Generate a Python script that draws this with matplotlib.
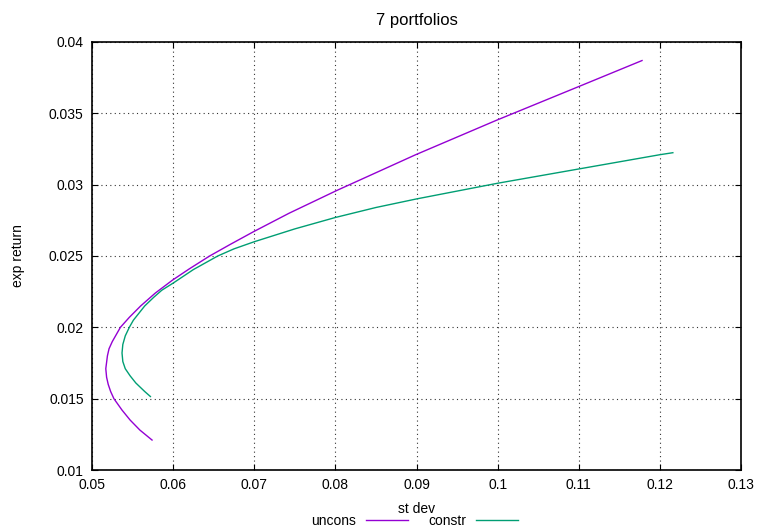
import matplotlib
matplotlib.use("Agg")
import matplotlib.pyplot as plt

plt.rcParams['font.family'] = ['Liberation Sans', 'DejaVu Sans']
plt.rcParams['font.size'] = 10

# unconstrained frontier (st dev, exp return)
uncons_sd = [0.0574, 0.0559, 0.0547, 0.0537, 0.0527, 0.0523, 0.0520, 0.0518,
             0.0517, 0.0519, 0.0521, 0.0525, 0.0530, 0.0535, 0.0546, 0.0560,
             0.0578, 0.0599, 0.0620, 0.0645, 0.0670, 0.0699, 0.0743, 0.0802,
             0.0899, 0.0998, 0.1101, 0.1178]
uncons_ret = [0.0121, 0.0128, 0.0135, 0.0142, 0.0150, 0.0155, 0.0160, 0.0165,
              0.0171, 0.0180, 0.0185, 0.0190, 0.0195, 0.0200, 0.0207, 0.0215,
              0.0224, 0.0233, 0.0241, 0.0250, 0.0258, 0.0267, 0.0280, 0.0296,
              0.0321, 0.0345, 0.0369, 0.0387]

# constrained frontier
constr_sd = [0.0572, 0.0565, 0.0554, 0.0547, 0.0541, 0.0538, 0.0537, 0.0538,
             0.0541, 0.0546, 0.0551, 0.0558, 0.0565, 0.0576, 0.0586, 0.0600,
             0.0625, 0.0655, 0.0675, 0.0700, 0.0750, 0.0800, 0.0850, 0.0900,
             0.1000, 0.1100, 0.1200, 0.1216]
constr_ret = [0.01515, 0.0155, 0.0161, 0.0166, 0.0171, 0.0176, 0.0182, 0.0188,
              0.0194, 0.0200, 0.0205, 0.0210, 0.0215, 0.0221, 0.0226, 0.0231,
              0.02405, 0.0250, 0.0255, 0.0260, 0.0269, 0.0277, 0.0284, 0.0290,
              0.0301, 0.0311, 0.0321, 0.03224]

xticks = [0.05, 0.06, 0.07, 0.08, 0.09, 0.1, 0.11, 0.12, 0.13]
yticks = [0.01, 0.015, 0.02, 0.025, 0.03, 0.035, 0.04]

fig = plt.figure(figsize=(7.61, 5.28), dpi=100)
ax = fig.add_axes([92 / 761, 1 - 470 / 528, (741 - 92) / 761, (470 - 42) / 528])

ax.plot(uncons_sd, uncons_ret, color='#9400D3', lw=1, label='uncons')
ax.plot(constr_sd, constr_ret, color='#009E73', lw=1, label='constr')

ax.set_xlim(0.05, 0.13)
ax.set_ylim(0.01, 0.04)
ax.set_xticks(xticks)
ax.set_xticklabels([f"{t:g}" for t in xticks])
ax.set_yticks(yticks)
ax.set_yticklabels([f"{t:g}" for t in yticks])
ax.tick_params(direction='in', length=4, top=True, right=True, pad=6)
ax.grid(True, linestyle=(0, (1, 3)), color='#333333', lw=0.8)
for s in ax.spines.values():
    s.set_linewidth(1.2)

ax.set_title('7 portfolios', pad=12)
ax.set_xlabel('st dev', labelpad=7)
ax.set_ylabel('exp return', labelpad=17)

ax.legend(loc='center', bbox_to_anchor=(0.545, 0.0138), bbox_transform=fig.transFigure,
          ncol=2, frameon=False, markerfirst=False, handlelength=3.0,
          handletextpad=0.7, columnspacing=1.5, borderpad=0)

fig.savefig('out.png', dpi=100)
